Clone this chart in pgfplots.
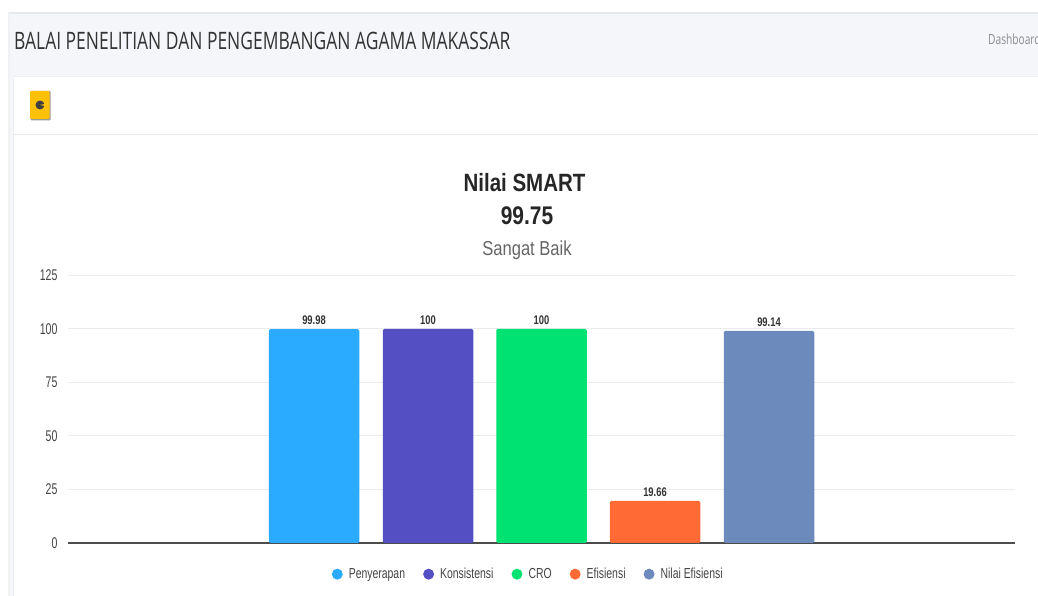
\documentclass[border=0pt]{standalone}
\usepackage{pgfplots}
\pgfplotsset{compat=1.18}
\usepackage{fontspec}
\setmainfont{Liberation Sans}[FakeStretch=0.82]
\newfontfamily\headfont{Open Sans}[FakeStretch=0.727]
\newfontfamily\tickfont{Liberation Sans}[FakeStretch=0.68]
\newfontfamily\labfont{Liberation Sans}[FakeStretch=0.75]
\newfontfamily\legfont{Liberation Sans}[FakeStretch=0.72]
\definecolor{bgpage}{HTML}{F4F6F9}
\definecolor{linec}{HTML}{E6E8EB}
\definecolor{gridc}{HTML}{E9EBED}
\definecolor{cA}{HTML}{2AABFF}
\definecolor{cB}{HTML}{5450C4}
\definecolor{cC}{HTML}{00E272}
\definecolor{cD}{HTML}{FF6A35}
\definecolor{cE}{HTML}{6C8ABC}
\definecolor{tickc}{HTML}{444444}
\definecolor{iconc}{HTML}{FFC107}
\begin{document}
\begin{tikzpicture}[x=1pt,y=1pt]
\useasboundingbox (0,0) rectangle (1038,596);
\fill[white] (0,0) rectangle (1038,596);
% page frame
\fill[bgpage] (8,0) rectangle (1038,583);
\fill[linec] (8,582) rectangle (1038,584);
\fill[linec!60] (8,0) rectangle (10,583);
\fill[white] (13,0) rectangle (1038,519);
\draw[linec!70,line width=1pt] (13,0) -- (13,519) -- (1038,519);
\draw[linec,line width=1pt] (13,461.5) -- (1038,461.5);
% header text
\node[anchor=west,inner sep=0pt,text=black!80] at (14,555.5) {\headfont\fontsize{24}{24}\selectfont BALAI PENELITIAN DAN PENGEMBANGAN AGAMA MAKASSAR};
\node[anchor=west,inner sep=0pt,text=black!45] at (988,557) {\headfont\fontsize{14}{14}\selectfont Dashboard};
% icon
\fill[black!40,rounded corners=1pt] (30.5,475.5) rectangle (50.5,505);
\fill[iconc,rounded corners=1pt] (30,477) rectangle (49.5,505);
\fill[black!75] (40,491) circle (4.5);
\fill[iconc] (40,491) -- (45,492) -- (45,490) -- cycle;
% titles
\node[inner sep=0pt,text=black!85] at (524.5,413) {\fontsize{25}{25}\selectfont\bfseries Nilai SMART};
\node[inner sep=0pt,text=black!85] at (527,380) {\fontsize{25.5}{25.5}\selectfont\bfseries 99.75};
\node[inner sep=0pt,text=black!60] at (527,345.5) {\fontsize{20.2}{20.2}\selectfont Sangat Baik};
\begin{axis}[
  at={(68pt,53pt)}, anchor=south west,
  scale only axis, width=947pt, height=267.5pt,
  ybar, bar width=90.5pt,
  xmin=-1, xmax=1, ymin=0, ymax=125,
  ytick={0,25,50,75,100,125},
  xtick=\empty,
  axis line style={draw=none},
  axis x line*=bottom,
  axis y line*=left,
  y axis line style={draw=none},
  x axis line style={draw=black!70,line width=1.3pt,-},
  tick style={draw=none},
  ymajorgrids,
  grid style={gridc,line width=1pt},
  /pgf/number format/assume math mode=true,
  yticklabel style={font=\tickfont\fontsize{15.5}{15.5}\selectfont,text=tickc,xshift=-7pt},
  nodes near coords,
  nodes near coords style={font=\labfont\fontsize{12.5}{12.5}\selectfont\bfseries,text=black!80,inner sep=0pt,yshift=4.5pt,/pgf/number format/fixed,/pgf/number format/precision=2},
  legend image code/.code={\fill[#1] (0pt,0pt) circle (5.5pt);},
  legend style={at={(0.486,-0.1165)},anchor=center,draw=none,fill=none,font=\legfont\fontsize{14.5}{14.5}\selectfont,text=tickc,inner sep=0pt,
    /tikz/every even column/.append style={column sep=16pt},
    /tikz/every odd column/.append style={column sep=4pt}},
  legend columns=-1,
]
\addplot[draw=none,fill=cA,bar shift=-227.5pt,rounded corners=1.5pt] coordinates {(0,99.98)};
\addplot[draw=none,fill=cB,bar shift=-113.5pt,rounded corners=1.5pt] coordinates {(0,100)};
\addplot[draw=none,fill=cC,bar shift=0pt,rounded corners=1.5pt] coordinates {(0,100)};
\addplot[draw=none,fill=cD,bar shift=113.5pt,rounded corners=1.5pt] coordinates {(0,19.66)};
\addplot[draw=none,fill=cE,bar shift=227.5pt,rounded corners=1.5pt] coordinates {(0,99.14)};
\legend{Penyerapan,Konsistensi,CRO,Efisiensi,Nilai Efisiensi}
\end{axis}
\end{tikzpicture}
\end{document}
